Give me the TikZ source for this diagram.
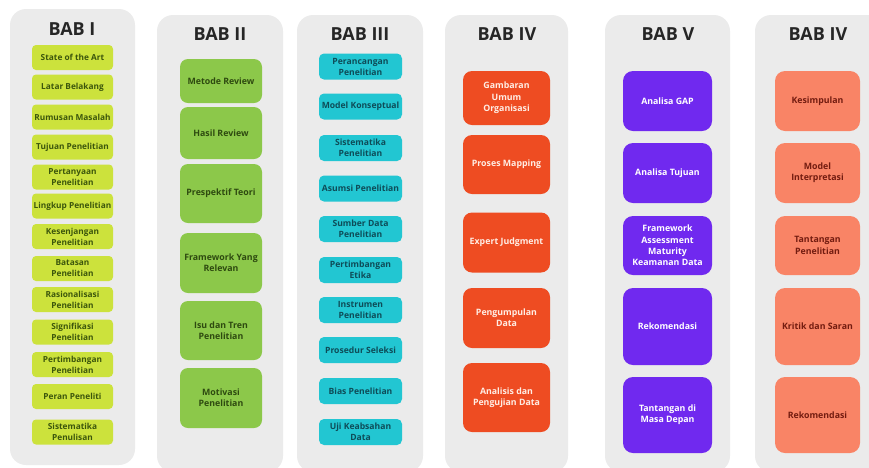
\documentclass[tikz,border=0pt]{standalone}
\usepackage{fontspec}
\setmainfont{Open Sans}
\usepackage{tikz}

\definecolor{panelgray}{HTML}{EBEBEB}
\definecolor{titlegray}{HTML}{262626}
\definecolor{limefill}{HTML}{CCE23C}
\definecolor{limetext}{HTML}{3C560C}
\definecolor{greenfill}{HTML}{8CC84A}
\definecolor{greentext}{HTML}{2E4A10}
\definecolor{cyanfill}{HTML}{22C6D2}
\definecolor{cyantext}{HTML}{0E4C58}
\definecolor{orangefill}{HTML}{EE4C22}
\definecolor{orangetext}{HTML}{FFEDE4}
\definecolor{purplefill}{HTML}{7029EF}
\definecolor{purpletext}{HTML}{FFFFFF}
\definecolor{salmonfill}{HTML}{F98466}
\definecolor{salmontext}{HTML}{731C10}

\tikzset{
  panel/.style={fill=panelgray, rounded corners=16pt},
  babtitle/.style={font=\bfseries\fontsize{18}{20}\selectfont, text=titlegray},
  babbox/.style={align=center, inner sep=0pt, font=\bfseries\fontsize{8.8}{11.3}\selectfont},
  limebox/.style={babbox, fill=limefill, text=limetext, rounded corners=4pt,
    minimum width=81pt, minimum height=25pt, font=\bfseries\fontsize{8.3}{11}\selectfont},
  greenbox/.style={babbox, fill=greenfill, text=greentext, rounded corners=8pt,
    minimum width=82pt},
  cyanbox/.style={babbox, fill=cyanfill, text=cyantext, rounded corners=5pt,
    minimum width=83pt, minimum height=26pt, font=\bfseries\fontsize{8.6}{11}\selectfont},
  orangebox/.style={babbox, fill=orangefill, text=orangetext, rounded corners=9pt,
    minimum width=87pt},
  purplebox/.style={babbox, fill=purplefill, text=purpletext, rounded corners=10pt,
    minimum width=89pt},
  salmonbox/.style={babbox, fill=salmonfill, text=salmontext, rounded corners=10pt,
    minimum width=85pt}
}

\begin{document}
\begin{tikzpicture}[x=1pt, y=-1pt]
    \clip (0,0) rectangle (869,467);

    % draw panels
    \fill[panel] (10,9) rectangle (135,465);
    \foreach \l/\r in {157/283, 297/423, 445/568, 605/730, 755/890}
      \fill[panel] (\l,15) rectangle (\r,472);

    % draw titles
    \node[babtitle] (title1) at (72,29) {BAB I};
    \node[babtitle] (title2) at (220,34) {BAB II};
    \node[babtitle] (title3) at (360,34) {BAB III};
    \node[babtitle] (title4) at (507,34) {BAB IV};
    \node[babtitle] (title5) at (668,34) {BAB V};
    \node[babtitle] (title6) at (818,34) {BAB IV};

    % BAB I
    \foreach \y/\t [count=\i] in {57.5/State of the Art, 87/Latar Belakang,
        117/Rumusan Masalah, 147/Tujuan Penelitian, 177/{Pertanyaan\\Penelitian},
        206/Lingkup Penelitian, 236.5/{Kesenjangan\\Penelitian}, 268.5/{Batasan\\Penelitian},
        299.5/{Rasionalisasi\\Penelitian}, 332/{Signifikasi\\Penelitian},
        364.5/{Pertimbangan\\Penelitian}, 396.5/Peran Peneliti, 432/{Sistematika\\Penulisan}}
      \node[limebox] (bab1-\i) at (72.5,\y) {\t};

    % BAB II
    \foreach \y/\h/\t [count=\i] in {81/44/Metode Review, 133/52/Hasil Review,
        193.5/59/Prespektif Teori, 263/60/{Framework Yang\\Relevan},
        330.5/59/{Isu dan Tren\\Penelitian}, 398/60/{Motivasi\\Penelitian}}
      \node[greenbox, minimum height=\h pt] (bab2-\i) at (221,\y) {\t};

    % BAB III
    \foreach \y/\t [count=\i] in {66.5/{Perancangan\\Penelitian}, 106.5/Model Konseptual,
        148/{Sistematika\\Penelitian}, 188.5/Asumsi Penelitian, 229/{Sumber Data\\Penelitian},
        270/{Pertimbangan\\Etika}, 310/{Instrumen\\Penelitian}, 350/Prosedur Seleksi,
        391/Bias Penelitian, 432/{Uji Keabsahan\\Data}}
      \node[cyanbox] (bab3-\i) at (360.5,\y) {\t};

    % BAB IV
    \foreach \y/\h/\t [count=\i] in {98/54/{Gambaran\\Umum\\Organisasi}, 164.5/59/Proses Mapping,
        242.5/60/Expert Judgment, 318/60/{Pengumpulan\\Data},
        397.5/69/{Analisis dan\\Pengujian Data}}
      \node[orangebox, minimum height=\h pt] (bab4-\i) at (506.5,\y) {\t};

    % BAB V
    \foreach \y/\h/\t [count=\i] in {101/60/Analisa GAP, 173/60/Analisa Tujuan,
        245.5/59/{Framework\\Assessment\\Maturity\\Keamanan Data}, 326.5/77/Rekomendasi,
        415/76/{Tantangan di\\Masa Depan}}
      \node[purplebox, minimum height=\h pt] (bab5-\i) at (667.5,\y) {\t};

    % BAB VI
    \foreach \y/\h/\t [count=\i] in {101/60/Kesimpulan, 173/60/{Model\\Interpretasi},
        245.5/59/{Tantangan\\Penelitian}, 326.5/77/Kritik dan Saran, 415/76/Rekomendasi}
      \node[salmonbox, minimum height=\h pt] (bab6-\i) at (817.5,\y) {\t};

\end{tikzpicture}
\end{document}
